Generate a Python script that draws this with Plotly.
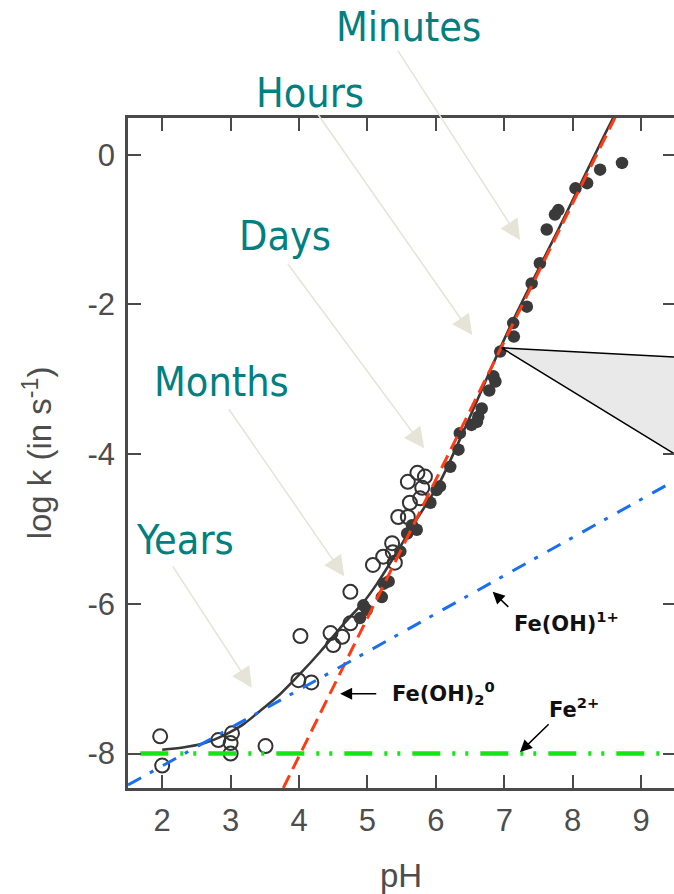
import plotly.graph_objects as go

# Measured rate constants (log k, s^-1) versus pH
open_ph = [1.97, 2.0, 2.82, 3.02, 3.0, 3.0, 3.51, 4.02, 3.99, 4.18, 4.46, 4.50, 4.63,
           4.75, 4.75, 5.08, 5.23, 5.36, 5.40, 5.37, 5.45, 5.59, 5.62, 5.59, 5.73,
           5.84, 5.80, 5.77]
open_logk = [-7.77, -8.16, -7.82, -7.73, -7.86, -8.0, -7.90, -6.43, -7.02, -7.05, -6.39,
             -6.55, -6.44, -6.26, -5.84, -5.48, -5.37, -5.19, -5.45, -5.31, -4.84, -4.84,
             -4.65, -4.37, -4.25, -4.30, -4.45, -4.59]

filled_ph = [4.89, 4.94, 4.99, 5.21, 5.24, 5.31, 5.48, 5.58, 5.65, 5.72, 5.92, 6.01,
             6.06, 6.21, 6.33, 6.35, 6.52, 6.60, 6.62, 6.67, 6.78, 6.84, 6.87, 6.94,
             7.14, 7.13, 7.33, 7.40, 7.52, 7.62, 7.74, 7.79, 8.04, 8.21, 8.40, 8.72]
filled_logk = [-6.19, -6.02, -6.08, -5.91, -5.73, -5.70, -5.30, -5.06, -4.95, -5.01,
               -4.65, -4.48, -4.43, -4.17, -3.94, -3.72, -3.61, -3.57, -3.50, -3.39,
               -3.15, -2.96, -3.03, -2.63, -2.43, -2.25, -2.03, -1.72, -1.45, -1.00,
               -0.80, -0.74, -0.45, -0.38, -0.20, -0.11]

# Overall rate curve
curve_ph = [2.0, 2.3, 2.58, 2.82, 3.0, 3.2, 3.39, 3.73, 4.02, 4.31, 4.65, 4.94, 5.14,
            5.43, 5.72, 6.06, 6.45, 6.8, 7.13, 7.8, 8.43, 8.59]
curve_logk = [-7.95, -7.92, -7.87, -7.79, -7.71, -7.6, -7.46, -7.2, -6.93, -6.64, -6.27,
              -5.98, -5.73, -5.31, -4.87, -4.37, -3.6, -2.87, -2.21, -0.98, 0.2, 0.49]

# Contributions of the individual Fe(II) species
fe2_ph = [1.68, 9.40]
fe2_logk = [-8.0, -8.0]
feoh_ph = [1.5, 9.48]
feoh_logk = [-8.42, -4.36]
feoh2_ph = [3.77, 8.62]
feoh2_logk = [-8.46, 0.5]

# Callout wedge (its open end runs past the right edge of the frame)
wedge_ph = [6.96, 9.6, 9.6, 6.96]
wedge_logk = [-2.58, -2.71, -4.06, -2.58]

x_ticks = [2, 3, 4, 5, 6, 7, 8, 9]
y_ticks = [0, -2, -4, -6, -8]
y_ticktext = ["0", "-2", "-4", "-6", "-8"]

# Half-life scale labels (paper position) and their arrows (data coordinates)
time_labels = ["Minutes", "Hours", "Days", "Months", "Years"]
time_text_x = [0.513, 0.333, 0.288, 0.172, 0.104]
time_text_y = [1.136, 1.037, 0.824, 0.606, 0.370]
time_tail_x = [5.43, 4.26, 3.82, 2.96, 2.14]
time_tail_y = [1.41, 0.56, -1.44, -3.38, -5.48]
time_head_x = [7.23, 6.53, 5.83, 4.66, 3.31]
time_head_y = [-1.14, -2.41, -3.92, -5.63, -7.12]

species_labels = ["Fe(OH)<sup>1+</sup>", "Fe(OH)<sub>2</sub><sup>0</sup>", "Fe<sup>2+</sup>"]
species_text_x = [7.11, 5.33, 7.62]
species_text_y = [-6.24, -7.19, -7.39]
species_tail_x = [7.08, 5.15, 7.67]
species_tail_y = [-6.06, -7.2, -7.59]
species_head_x = [6.83, 4.6, 7.23]
species_head_y = [-5.84, -7.2, -7.98]

X_RANGE = [1.5, 9.48]
Y_RANGE = [-8.46, 0.49]
AXIS_GREY = "#4a4a4a"
TEAL = "#008080"

fig = go.Figure()

fig.add_trace(go.Scatter(
    x=curve_ph, y=curve_logk, mode="lines",
    line=dict(color="#383838", width=2.6, shape="spline", smoothing=0.8),
    hoverinfo="skip", showlegend=False))

fig.add_trace(go.Scatter(
    x=open_ph, y=open_logk, mode="markers",
    marker=dict(symbol="circle-open", size=14, color="#333333", line=dict(width=2)),
    showlegend=False))

fig.add_trace(go.Scatter(
    x=filled_ph, y=filled_logk, mode="markers",
    marker=dict(symbol="circle", size=12.5, color="#3a3a3a", line=dict(width=0)),
    showlegend=False))

fig.add_trace(go.Scatter(
    x=feoh2_ph, y=feoh2_logk, mode="lines",
    line=dict(color="#ff3b12", width=3, dash="14px,7px"),
    showlegend=False))

fig.add_trace(go.Scatter(
    x=feoh_ph, y=feoh_logk, mode="lines",
    line=dict(color="#1a6ff0", width=3, dash="15px,10px,4px,11px"),
    showlegend=False))

fig.add_trace(go.Scatter(
    x=fe2_ph, y=fe2_logk, mode="lines",
    line=dict(color="#14e614", width=4.5, dash="28px,12px,3px,10px,3px,12px"),
    showlegend=False))

fig.add_trace(go.Scatter(
    x=wedge_ph, y=wedge_logk, mode="lines", fill="toself",
    fillcolor="#e9e9e9", line=dict(color="#000000", width=1.5),
    yaxis="y2", showlegend=False))

annotations = []
for t, tx, ty in zip(time_labels, time_text_x, time_text_y):
    annotations.append(dict(
        x=tx, y=ty, xref="paper", yref="paper", text=t, showarrow=False,
        xanchor="center", yanchor="middle",
        font=dict(family="DejaVu Sans Condensed, Lato, DejaVu Sans", size=41, color=TEAL)))
for tx, ty, hx, hy in zip(time_tail_x, time_tail_y, time_head_x, time_head_y):
    annotations.append(dict(
        x=hx, y=hy, ax=tx, ay=ty, xref="x", yref="y", axref="x", ayref="y",
        text="", showarrow=True, arrowhead=2, arrowsize=2.7, arrowwidth=1.5,
        arrowcolor="#e6e3d7"))
for t, tx, ty in zip(species_labels, species_text_x, species_text_y):
    annotations.append(dict(
        x=tx, y=ty, xref="x", yref="y", text="<b>" + t + "</b>", showarrow=False,
        xanchor="left", yanchor="middle",
        font=dict(family="DejaVu Sans", size=21, color="#111111")))
for tx, ty, hx, hy in zip(species_tail_x, species_tail_y, species_head_x, species_head_y):
    annotations.append(dict(
        x=hx, y=hy, ax=tx, ay=ty, xref="x", yref="y", axref="x", ayref="y",
        text="", showarrow=True, arrowhead=2, arrowsize=1.6, arrowwidth=1.5,
        arrowcolor="#000000"))

tick_font = dict(family="Liberation Sans, Arial", size=31, color="#4d4d4d")

fig.update_layout(
    width=674, height=894,
    margin=dict(l=128, r=0, t=118, b=106),
    paper_bgcolor="white", plot_bgcolor="white",
    showlegend=False,
    annotations=annotations,
    xaxis=dict(
        range=X_RANGE, tickvals=x_ticks, ticks="inside", ticklen=13, tickwidth=2,
        tickcolor=AXIS_GREY, showline=True, linewidth=2.5, linecolor=AXIS_GREY,
        mirror="ticks", showgrid=False, zeroline=False, tickfont=tick_font,
        ticklabelstandoff=3,
        title=dict(text="pH", font=dict(family="Liberation Sans, Arial", size=33,
                                         color="#4d4d4d"), standoff=28)),
    yaxis=dict(
        range=Y_RANGE, tickvals=y_ticks, ticktext=y_ticktext, ticks="inside",
        ticklen=13, tickwidth=2, tickcolor=AXIS_GREY, showline=True, linewidth=2.5,
        linecolor=AXIS_GREY, mirror=False, showgrid=False, zeroline=False,
        tickfont=tick_font, ticklabelstandoff=4,
        title=dict(text="log k (in s<sup>-1</sup>)",
                   font=dict(family="Liberation Sans, Arial", size=33, color="#4d4d4d"),
                   standoff=26)),
    yaxis2=dict(
        range=Y_RANGE, tickvals=y_ticks, overlaying="y", side="right",
        ticks="inside", ticklen=11, tickwidth=2, tickcolor=AXIS_GREY,
        showticklabels=False, showline=False, showgrid=False, zeroline=False),
)

fig.write_html("out.html")
